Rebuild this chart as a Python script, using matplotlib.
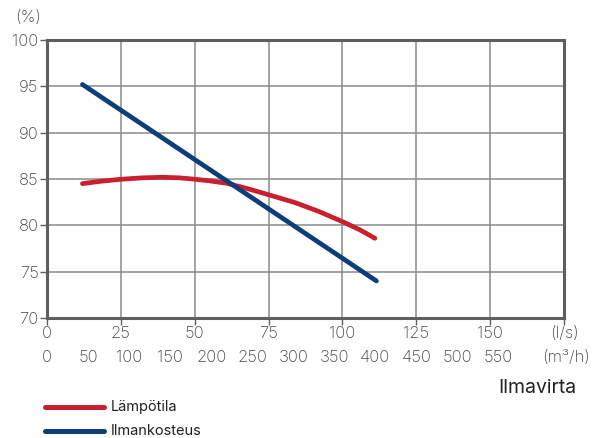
import matplotlib.pyplot as plt
from matplotlib.lines import Line2D

plt.rcParams['font.family'] = ['Inter', 'DejaVu Sans']
plt.rcParams['font.weight'] = 'light'

# air flow in l/s
temp_x = [12, 18, 25, 32, 39, 45, 50, 55, 61, 68, 75, 84, 92, 100, 106, 111]
temp_y = [84.5, 84.75, 84.97, 85.12, 85.19, 85.12, 84.98, 84.8, 84.53, 83.95, 83.3,
          82.45, 81.5, 80.4, 79.5, 78.6]
hum_x = [12, 111.5]
hum_y = [95.2, 74.0]

ls_ticks = [0, 25, 50, 75, 100, 125, 150, 175]
ls_labels = ["0", "25", "50", "75", "100", "125", "150", "(l/s)"]
m3h_ticks = [0, 50, 100, 150, 200, 250, 300, 350, 400, 450, 500, 550]
y_ticks = [70, 75, 80, 85, 90, 95, 100]

RED = "#c8202c"
BLUE = "#0e3d7a"
FRAME = "#5e5e5e"
TXT = "#444444"
FS = 12

fig = plt.figure(figsize=(5.93, 4.38), dpi=100)
ax = fig.add_axes([47 / 593, 1 - 318 / 438, (564 - 47) / 593, (318 - 40) / 438])

ax.plot(temp_x, temp_y, color=RED, lw=3.4, solid_capstyle="round", solid_joinstyle="round")
ax.plot(hum_x, hum_y, color=BLUE, lw=3.4, solid_capstyle="round")

ax.set_xlim(0, 175)
ax.set_ylim(70, 100)
ax.set_xticks(ls_ticks)
ax.set_xticklabels(ls_labels)
ax.set_yticks(y_ticks)
ax.grid(True, color="#8a8a8a", lw=1.1)
ax.set_axisbelow(True)
for s in ax.spines.values():
    s.set_color(FRAME)
    s.set_linewidth(2.2)
ax.tick_params(axis="both", colors=FRAME, labelcolor=TXT, labelsize=FS, width=1, length=5)
ax.tick_params(axis="x", pad=1)
ax.tick_params(axis="y", pad=1)

# second row: m3/h converted to l/s positions
tr = ax.get_xaxis_transform()
row2 = (318 - 358) / 278
for v in m3h_ticks:
    ax.text(v / 3.6, row2, str(v), transform=tr, ha="center", va="center",
            fontsize=FS, color=TXT)
fig.text(590 / 593, 1 - 357 / 438, "(m³/h)", ha="right", va="center",
         fontsize=FS, color=TXT)

fig.text(28 / 593, 1 - 17 / 438, "(%)", ha="center", va="center", fontsize=FS, color=TXT)
fig.text(576 / 593, 1 - 388 / 438, "Ilmavirta", ha="right", va="center", fontsize=14,
         color="#222222", fontweight="normal")

# legend
for yy, col, lab in [(407, RED, "Lämpötila"), (431, BLUE, "Ilmankosteus")]:
    fig.add_artist(Line2D([45 / 593, 104 / 593], [1 - yy / 438] * 2, color=col, lw=3.6,
                          solid_capstyle="round", transform=fig.transFigure))
    fig.text(111 / 593, 1 - yy / 438, lab, ha="left", va="center", fontsize=10.5,
             color="#222222", fontweight="normal")

fig.savefig("out.png", dpi=100)
